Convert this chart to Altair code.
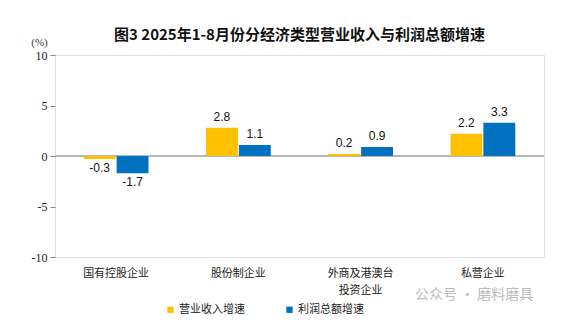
import altair as alt
import pandas as pd

categories = ["国有控股企业", "股份制企业", "外商及港澳台投资企业", "私营企业"]
series = ["营业收入增速", "利润总额增速"]
revenue = [-0.3, 2.8, 0.2, 2.2]
profit = [-1.7, 1.1, 0.9, 3.3]
colors = ["#FFC000", "#0070C0"]

rows = []
for c, r, p in zip(categories, revenue, profit):
    rows.append({"cat": c, "series": series[0], "value": r})
    rows.append({"cat": c, "series": series[1], "value": p})
df = pd.DataFrame(rows)
df["label"] = df["value"].map(lambda v: f"{v:.1f}")

FONT_CJK = "Noto Sans CJK SC"
FONT_NUM = "Liberation Sans"

x_enc = alt.X(
    "cat:N",
    sort=categories,
    title=None,
    scale=alt.Scale(paddingInner=0.47, paddingOuter=0.235),
    axis=alt.Axis(
        labelAngle=0,
        ticks=False,
        domain=False,
        labelFont=FONT_CJK,
        labelFontSize=11,
        labelColor="#222",
        labelPadding=10,
        labelLineHeight=17,
        labelExpr="datum.label == '外商及港澳台投资企业' ? ['外商及港澳台', '投资企业'] : datum.label",
    ),
)
y_scale = alt.Scale(domain=[-10, 10], nice=False)
xoff = alt.XOffset("series:N", sort=series, scale=alt.Scale(paddingInner=0.03))

base = alt.Chart(df)

bars = base.mark_bar().encode(
    x=x_enc,
    xOffset=xoff,
    y=alt.Y(
        "value:Q",
        scale=y_scale,
        title="(%)",
        axis=alt.Axis(
            values=[-10, -5, 0, 5, 10],
            labelExpr="'' + datum.value",
            grid=False,
            domain=False,
            tickColor="#888",
            tickSize=5,
            labelFont="Liberation Serif",
            labelFontSize=12,
            labelColor="#222",
            labelPadding=3,
            titleAngle=0,
            titleFont="Liberation Serif",
            titleFontSize=11,
            titleFontWeight="normal",
            titleColor="#333",
            titleX=-16,
            titleY=-8,
            titleAlign="center",
        ),
    ),
    color=alt.Color(
        "series:N",
        sort=series,
        scale=alt.Scale(domain=series, range=colors),
        legend=alt.Legend(
            title=None,
            orient="none",
            direction="horizontal",
            legendX=110,
            legendY=249,
            symbolType="square",
            symbolSize=40,
            symbolStrokeWidth=0,
            labelFont=FONT_CJK,
            labelFontSize=11,
            labelColor="#222",
            columnPadding=39,
            symbolOffset=0,
            labelOffset=3,
        ),
    ),
)

pos_text = base.transform_filter("datum.value >= 0").mark_text(
    baseline="bottom", dy=-4, font=FONT_NUM, fontSize=12, color="#111"
).encode(x=x_enc, xOffset=xoff, y=alt.Y("value:Q", scale=y_scale), text="label:N")

neg_text = base.transform_filter("datum.value < 0").mark_text(
    baseline="top", dy=4, font=FONT_NUM, fontSize=12, color="#111"
).encode(x=x_enc, xOffset=xoff, y=alt.Y("value:Q", scale=y_scale), text="label:N")

zero = alt.Chart(pd.DataFrame({"z": [0]})).mark_rule(color="#a0a0a0", strokeWidth=1.5).encode(
    y=alt.Y("z:Q", scale=y_scale)
)

watermark = alt.Chart(pd.DataFrame({"t": ["公众号 · 磨料磨具"]})).mark_text(
    font=FONT_CJK, fontSize=14, color="#bbbbbb", align="left", baseline="middle"
).encode(text="t:N", x=alt.value(360), y=alt.value(240))

chart = (
    alt.layer(zero, bars, pos_text, neg_text, watermark)
    .properties(
        width=489,
        height=202,
        title=alt.TitleParams(
            "图3 2025年1-8月份分经济类型营业收入与利润总额增速",
            font=FONT_CJK,
            fontSize=15,
            fontWeight="bold",
            color="#111",
            anchor="middle",
            offset=-7,
        ),
        padding={"left": 30, "top": 28, "right": 5, "bottom": 5},
    )
    .configure_view(stroke="#888", strokeWidth=1)
    .configure(background="white")
)

chart.save("out.html", embed_options={"renderer": "svg", "actions": False})
